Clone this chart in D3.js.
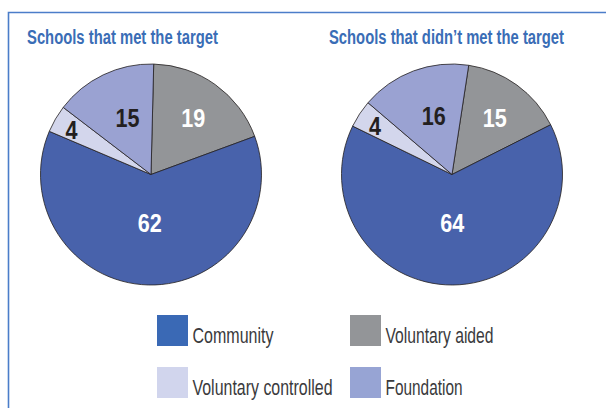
<!DOCTYPE html>
<html>
<head>
<meta charset="utf-8">
<script src="https://cdn.jsdelivr.net/npm/d3@7"></script>
<style>
  body { margin: 0; background: #fff; }
  svg { display: block; }
  text { font-family: "Liberation Sans Narrow", "Arial Narrow", "Liberation Sans", sans-serif; }
</style>
</head>
<body>
<script>
// data
var categories = ['Voluntary aided', 'Community', 'Voluntary controlled', 'Foundation'];
var metTarget = [19, 62, 4, 15];
var missedTarget = [15, 64, 4, 16];
var titles = ['Schools that met the target', 'Schools that didn\u2019t met the target'];
var legendOrder = ['Community', 'Voluntary aided', 'Voluntary controlled', 'Foundation'];

var width = 606, height = 408;

var colour = d3.scaleOrdinal()
  .domain(categories)
  .range(['#939598', '#4862ab', '#d3d6ec', '#9aa2d2']);
var swatch = d3.scaleOrdinal()
  .domain(categories)
  .range(['#939598', '#3a69b5', '#d1d5ed', '#97a4d4']);
var labelColour = { 'Voluntary aided': '#fff', 'Community': '#fff', 'Voluntary controlled': '#231f20', 'Foundation': '#231f20' };
// label placement: radius and small angle nudge (degrees)
var labelR = { 'Voluntary aided': 71, 'Community': 49, 'Voluntary controlled': 91, 'Foundation': 61 };
var labelNudge = { 'Voluntary aided': 1, 'Community': 0, 'Voluntary controlled': -1, 'Foundation': 3 };

var svg = d3.select('body').append('svg').attr('width', width).attr('height', height);

// frame
svg.append('path')
  .attr('d', 'M8.5 408 V12.5 H606')
  .attr('fill', 'none')
  .attr('stroke', '#4b7dc9')
  .attr('stroke-width', 1.6);

var pies = [
  { title: titles[0], values: metTarget, cx: 151, cy: 174.5, tx: 27, tw: 191, start: 1.4 },
  { title: titles[1], values: missedTarget, cx: 452, cy: 174.5, tx: 329, tw: 235, start: 8.7 }
];

var radius = 110.5;
var arc = d3.arc().innerRadius(0).outerRadius(radius);

pies.forEach(function(p) {
  // condensed title: squeeze horizontally to the measured width
  var t = svg.append('text')
    .attr('font-size', 20.5).attr('font-weight', 'bold')
    .attr('fill', '#3a6db6')
    .text(p.title);
  var k = p.tw / t.node().getComputedTextLength();
  t.attr('transform', 'translate(' + p.tx + ',43.5) scale(' + k + ',1)');

  var pie = d3.pie().sort(null)
    .value(function(d) { return d.value; })
    .startAngle(p.start * Math.PI / 180)
    .endAngle((p.start + 360) * Math.PI / 180);
  var slices = pie(p.values.map(function(v, i) { return { cat: categories[i], value: v }; }));

  var g = svg.append('g').attr('transform', 'translate(' + p.cx + ',' + p.cy + ')');
  g.selectAll('path').data(slices).enter().append('path')
    .attr('d', arc)
    .attr('fill', function(d) { return colour(d.data.cat); })
    .attr('stroke', '#231f20')
    .attr('stroke-width', 0.8);

  g.selectAll('text').data(slices).enter().append('text')
    .attr('x', function(d) {
      var a = (d.startAngle + d.endAngle) / 2 + labelNudge[d.data.cat] * Math.PI / 180;
      return Math.sin(a) * labelR[d.data.cat];
    })
    .attr('y', function(d) {
      var a = (d.startAngle + d.endAngle) / 2 + labelNudge[d.data.cat] * Math.PI / 180;
      return -Math.cos(a) * labelR[d.data.cat];
    })
    .attr('dy', '0.36em')
    .attr('text-anchor', 'middle')
    .attr('font-size', 25).attr('font-weight', 'bold')
    .attr('textLength', function(d) { return String(d.data.value).length * 12; })
    .attr('lengthAdjust', 'spacingAndGlyphs')
    .attr('fill', function(d) { return labelColour[d.data.cat]; })
    .text(function(d) { return d.data.value; });
});

// legend
var lx = d3.scaleOrdinal().domain(legendOrder).range([157, 350, 157, 350]);
var ly = d3.scaleOrdinal().domain(legendOrder).range([315, 315, 367, 367]);
var legendW = { 'Community': 81, 'Voluntary aided': 108, 'Voluntary controlled': 140, 'Foundation': 77 };

var leg = svg.append('g').selectAll('g').data(legendOrder).enter().append('g')
  .attr('transform', function(d) { return 'translate(' + lx(d) + ',' + ly(d) + ')'; });
leg.append('rect').attr('width', 31).attr('height', 31)
  .attr('fill', function(d) { return swatch(d); });
leg.append('text')
  .attr('x', 35.5).attr('y', 28)
  .attr('font-size', 22.5)
  .attr('fill', '#3a3a3c')
  .attr('textLength', function(d) { return legendW[d]; })
  .attr('lengthAdjust', 'spacingAndGlyphs')
  .text(function(d) { return d; });
</script>
</body>
</html>
